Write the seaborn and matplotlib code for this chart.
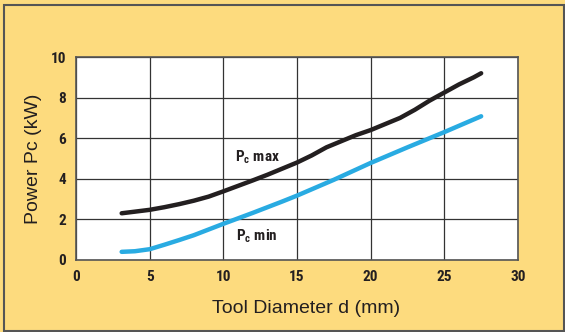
import pandas as pd
import seaborn as sns
import matplotlib.pyplot as plt
from matplotlib.patches import Rectangle

# values
d_max = [3.1, 4, 5, 6, 7, 8, 9, 10, 11, 12, 13, 14, 15, 16, 17, 18, 19, 20,
         21, 22, 23, 24, 25, 26, 27, 27.5]
pc_max = [2.3, 2.38, 2.47, 2.6, 2.75, 2.92, 3.12, 3.38, 3.65, 3.92, 4.2, 4.5, 4.8,
          5.15, 5.55, 5.85, 6.15, 6.4, 6.7, 7.0, 7.4, 7.85, 8.25, 8.65, 9.0, 9.2]
d_min = [3.1, 4, 5, 6, 7, 8, 9, 10, 11, 12, 13, 14, 15, 17.5, 20, 22.5, 25, 27.5]
pc_min = [0.4, 0.43, 0.53, 0.75, 0.98, 1.22, 1.5, 1.78, 2.05, 2.32, 2.6, 2.88,
          3.17, 3.95, 4.78, 5.55, 6.3, 7.08]
x_ticks = [0, 5, 10, 15, 20, 25, 30]
y_ticks = [0, 2, 4, 6, 8, 10]

df = pd.concat([
    pd.DataFrame({"d": d_max, "pc": pc_max, "curve": "max"}),
    pd.DataFrame({"d": d_min, "pc": pc_min, "curve": "min"}),
])

sns.set_style("white")
bg = "#fddb7e"
narrow = ["Roboto Condensed", "Roboto", "DejaVu Sans"]

fig = plt.figure(figsize=(5.65, 3.32), dpi=100, facecolor=bg)
ax = fig.add_axes([0.1345, 0.217, 0.7823, 0.6113])
ax.set_facecolor("white")

sns.lineplot(data=df, x="d", y="pc", hue="curve", palette={"max": "#231f20", "min": "#29abe2"},
             linewidth=3.2, legend=False, ax=ax, solid_capstyle="round", solid_joinstyle="round")

ax.set_xlim(0, 30)
ax.set_ylim(0, 10)
ax.set_xticks(x_ticks)
ax.set_yticks(y_ticks)
ax.grid(True, color="#333333", linewidth=0.9)
for s in ax.spines.values():
    s.set_color("#555555")
    s.set_linewidth(1.2)
ax.tick_params(length=0, pad=7)
for lab in ax.get_xticklabels() + ax.get_yticklabels():
    lab.set_family(narrow)
    lab.set_fontweight("bold")
    lab.set_fontsize(11)
    lab.set_color("#231f20")

ax.set_xlabel("Tool Diameter d (mm)", fontsize=14, family="Liberation Sans", labelpad=9, color="#231f20")
ax.xaxis.set_label_coords(0.52, -0.195)
ax.set_ylabel("Power Pc (kW)", fontsize=14, family="Liberation Sans", labelpad=14, color="#231f20")
ax.yaxis.set_label_coords(-0.077, 0.5)

ax.text(12.3, 5.07, r"P$_\mathregular{c}$ max", family=narrow, fontweight="bold", fontsize=11,
        ha="center", va="center", color="#231f20")
ax.text(12.3, 1.18, r"P$_\mathregular{c}$ min", family=narrow, fontweight="bold", fontsize=11,
        ha="center", va="center", color="#231f20")

fig.patches.append(Rectangle((4 / 565, 1 / 332), 560 / 565, 326 / 332, transform=fig.transFigure,
                             fill=False, edgecolor="#555555", linewidth=1.5))

fig.savefig("out.png", dpi=100, facecolor=bg)
